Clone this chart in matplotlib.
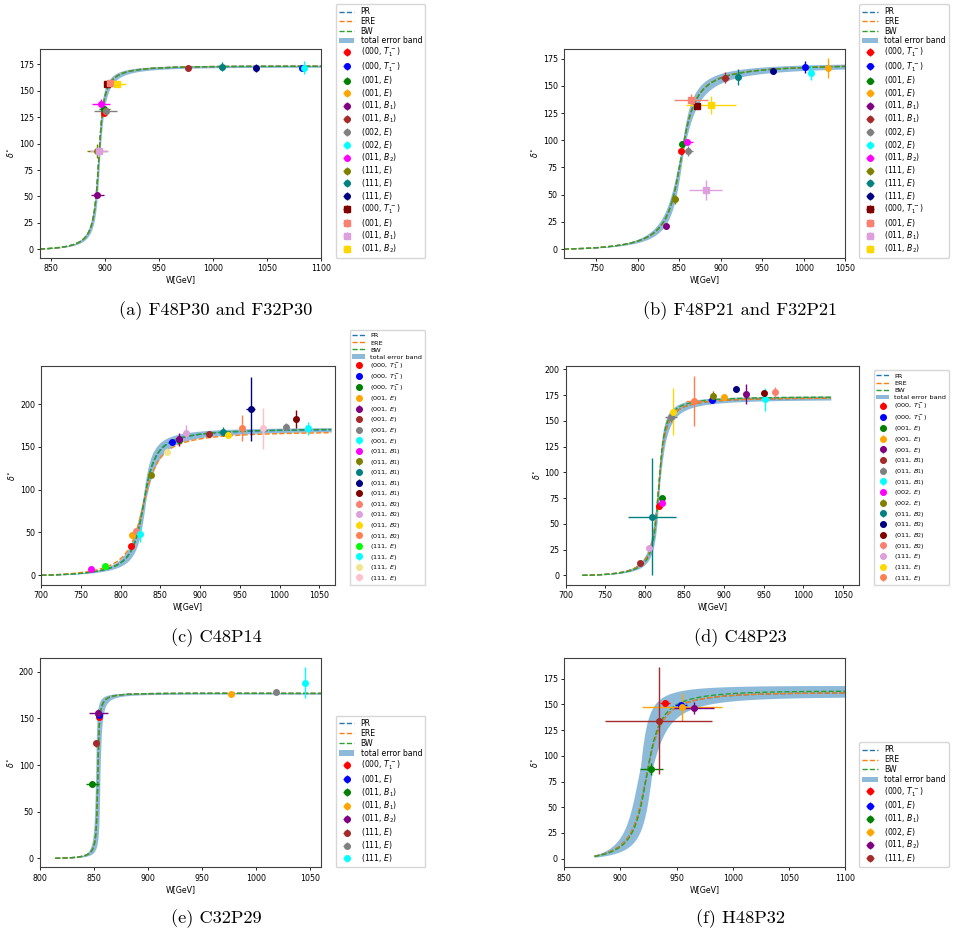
import numpy as np
import matplotlib
matplotlib.use("Agg")
import matplotlib.pyplot as plt
from matplotlib.ticker import MultipleLocator

# ------------------------------------------------------------------ data
# Fit model: tan(delta) = c * k^3 / (W (M^2 - W^2)),  k = sqrt(W^2/4 - mpi^2)
# (a) F48P30 and F32P30
a_mpi = 413.5
a_pr = (894.5, 1.125)
a_ere = (894.5, 1.12)
a_bw = (894.5, 1.13)
a_band_M = (893.7, 895.3)
a_band_c = (0.96, 1.30)
a_wrange = (827.01, 1100.0)
a_labels = [r"(000, $T_1^-$)", r"(000, $T_1^-$)", r"(001, $E$)", r"(001, $E$)",
            r"(011, $B_1$)", r"(011, $B_1$)", r"(002, $E$)", r"(002, $E$)",
            r"(011, $B_2$)", r"(111, $E$)", r"(111, $E$)", r"(111, $E$)",
            r"(000, $T_1^-$)", r"(001, $E$)", r"(011, $B_1$)", r"(011, $B_2$)"]
a_ensemble = ["F48P30"] * 12 + ["F32P30"] * 4
a_W = [899.0, 1082.3, 899.5, 900.5, 892.8, 977.0, 900.5, 1084.4,
       896.2, 892.5, 1008.2, 1040.0, 901.7, 904.8, 894.3, 911.5]
a_delta = [128.7, 171.8, 132.4, 131.0, 51.4, 171.8, 130.8, 171.8,
           137.5, 93.3, 172.8, 171.8, 156.1, 157.0, 93.3, 156.1]
a_xerr = [1.5, 2.0, 5.0, 2.0, 6.0, 1.5, 11.0, 2.5, 8.5, 9.0, 1.5, 2.0, 1.5, 2.0, 8.5, 8.0]
a_yerr = [2.0, 1.5, 2.0, 2.0, 3.0, 1.5, 4.0, 6.0, 5.0, 6.5, 4.0, 4.0, 1.5, 1.5, 2.0, 2.0]

# (b) F48P21 and F32P21
b_mpi = 355.0
b_pr = (853.5, 1.45)
b_ere = (853.5, 1.44)
b_bw = (853.5, 1.46)
b_band_M = (852.0, 855.0)
b_band_c = (1.20, 1.75)
b_wrange = (710.01, 1050.0)
b_labels = list(a_labels)
b_ensemble = ["F48P21"] * 12 + ["F32P21"] * 4
b_W = [851.6, 1001.4, 853.5, 1029.4, 833.5, 905.0, 860.0, 1008.2,
       858.8, 844.4, 920.3, 963.2, 870.9, 864.0, 881.7, 888.1]
b_delta = [90.1, 167.6, 96.5, 166.7, 21.4, 157.5, 90.1, 162.1,
           98.7, 45.7, 158.4, 164.0, 131.5, 137.0, 54.2, 132.4]
b_xerr = [1.5, 2.0, 1.5, 2.0, 2.0, 5.0, 7.0, 3.0, 8.0, 4.0, 2.0, 1.5, 2.0, 20.0, 19.5, 30.0]
b_yerr = [2.0, 5.4, 2.0, 9.2, 2.0, 5.0, 5.0, 7.0, 2.0, 4.0, 7.4, 1.5, 2.0, 5.4, 9.2, 8.0]

# (c) C48P14
c_mpi = 345.0
c_pr = (830.0, 1.25)
c_ere = (830.5, 1.70)
c_bw = (830.0, 1.22)
c_band_M = (828.0, 832.0)
c_band_c = (0.95, 1.55)
c_wrange = (700.0, 1065.0)
c_labels = [r"(000, $T_1^-$)"] * 3 + [r"(001, $E$)"] * 5 + [r"(011, $B_1$)"] * 5 + \
           [r"(011, $B_2$)"] * 4 + [r"(111, $E$)"] * 4
c_W = [813.0, 865.0, 873.4, 814.6, 873.4, 911.6, 1007.8, 1036.3, 762.6, 837.8, 929.2,
       963.7, 1020.4, 819.3, 882.2, 934.7, 952.8, 779.8, 824.3, 857.9, 979.2]
c_delta = [34.6, 155.2, 158.5, 47.0, 158.7, 165.3, 173.5, 171.6, 7.4, 117.1, 167.6,
           194.1, 182.5, 52.1, 166.5, 163.8, 172.3, 10.9, 48.2, 144.3, 171.6]
c_xerr = [1.5, 1.5, 1.5, 2.5, 2.0, 1.5, 1.5, 2.0, 1.5, 1.5, 2.0,
          5.7, 1.5, 3.0, 1.5, 2.0, 1.5, 2.0, 2.0, 2.0, 1.5]
c_yerr = [2.0, 2.0, 2.0, 2.0, 7.8, 3.0, 4.0, 7.8, 1.5, 2.0, 5.0,
          37.7, 11.0, 2.0, 8.8, 4.0, 15.2, 1.5, 8.8, 4.0, 24.0]

# (d) C48P23
d_mpi = 360.0
d_pr = (818.0, 1.15)
d_ere = (818.0, 1.15)
d_bw = (818.0, 1.00)
d_band_M = (817.0, 819.0)
d_band_c = (0.85, 1.40)
d_wrange = (721.0, 1035.0)
d_labels = [r"(000, $T_1^-$)"] * 2 + [r"(001, $E$)"] * 3 + [r"(011, $B_1$)"] * 3 + \
           [r"(002, $E$)"] * 2 + [r"(011, $B_2$)"] * 4 + [r"(111, $E$)"] * 3
d_W = [817.5, 884.5, 821.3, 900.4, 927.4, 793.9, 833.0, 951.8, 821.7, 886.5,
       808.6, 914.8, 950.6, 964.8, 805.3, 836.0, 862.5]
d_delta = [67.0, 170.2, 75.0, 173.1, 176.3, 11.9, 153.4, 170.8, 70.5, 174.0,
           56.9, 180.6, 177.3, 178.3, 26.8, 158.8, 169.2]
d_xerr = [1.5, 2.0, 1.5, 2.0, 1.5, 1.5, 7.4, 2.0, 2.0, 1.5, 30.3, 1.5, 1.5, 1.5, 1.5, 2.0, 10.0]
d_yerr = [2.0, 2.0, 2.0, 2.0, 9.7, 1.5, 5.0, 10.8, 2.0, 5.2, 56.8, 1.5, 1.5, 5.0, 1.5, 23.0, 24.6]

# (e) C32P29
e_mpi = 405.0
e_pr = (853.5, 0.60)
e_ere = (853.5, 0.60)
e_bw = (853.5, 0.60)
e_band_M = (851.5, 855.5)
e_band_c = (0.45, 0.75)
e_wrange = (814.0, 1060.0)
e_labels = [r"(000, $T_1^-$)", r"(001, $E$)", r"(011, $B_1$)", r"(011, $B_1$)",
            r"(011, $B_2$)", r"(111, $E$)", r"(111, $E$)", r"(111, $E$)"]
e_W = [854.9, 854.3, 848.4, 977.0, 853.7, 851.8, 1018.3, 1044.9]
e_delta = [151.1, 153.6, 79.3, 176.1, 155.4, 123.3, 178.6, 187.9]
e_xerr = [1.5, 3.0, 6.0, 1.0, 8.8, 3.0, 1.0, 3.0]
e_yerr = [3.0, 2.0, 3.0, 1.0, 5.0, 4.0, 1.0, 16.6]

# (f) H48P32
f_mpi = 427.0
f_pr = (925.0, 3.2)
f_ere = (925.0, 3.2)
f_bw = (925.0, 2.9)
f_band_M = (918.0, 929.0)
f_band_c = (2.0, 3.9)
f_wrange = (877.0, 1100.0)
f_labels = [r"(000, $T_1^-$)", r"(001, $E$)", r"(011, $B_1$)", r"(002, $E$)",
            r"(011, $B_2$)", r"(111, $E$)"]
f_W = [939.8, 954.0, 927.6, 954.9, 965.6, 934.2]
f_delta = [151.7, 149.4, 87.5, 147.2, 146.8, 134.2]
f_xerr = [4.7, 5.2, 10.0, 35.3, 17.6, 47.4]
f_yerr = [2.0, 2.0, 6.0, 13.6, 5.7, 51.9]

captions = ["(a) F48P30 and F32P30", "(b) F48P21 and F32P21", "(c) C48P14",
            "(d) C48P23", "(e) C32P29", "(f) H48P32"]

# ------------------------------------------------------------------ style
POINT_COLORS = ["red", "blue", "green", "orange", "purple", "brown", "gray", "cyan",
                "magenta", "olive", "teal", "navy", "maroon", "salmon", "plum", "gold",
                "coral", "lime", "cyan", "khaki", "pink"]
FW, FH = 956, 936


def phase(W, mpi, M, c):
    k = np.sqrt(np.clip(W ** 2 / 4.0 - mpi ** 2, 0, None))
    return np.degrees(np.arctan2(c * k ** 3 / W, M ** 2 - W ** 2))


def rect(x0, y0, x1, y1):
    return [x0 / FW, 1 - y1 / FH, (x1 - x0) / FW, (y1 - y0) / FH]


panels = [
    dict(mpi=a_mpi, pr=a_pr, ere=a_ere, bw=a_bw, bM=a_band_M, bc=a_band_c, wr=a_wrange,
         labels=a_labels, W=a_W, d=a_delta, xe=a_xerr, ye=a_yerr,
         markers=["o" if e == "F48P30" else "s" for e in a_ensemble],
         box=(40, 48.7, 321, 257.7), xlim=(839.8, 1100), ylim=(-7.9, 189.8),
         xt=50, yt=25, leg=(335.7, 258.0), lfs=5.6, ls=0.085, cap=(216, 311)),
    dict(mpi=b_mpi, pr=b_pr, ere=b_ere, bw=b_bw, bM=b_band_M, bc=b_band_c, wr=b_wrange,
         labels=b_labels, W=b_W, d=b_delta, xe=b_xerr, ye=b_yerr,
         markers=["o" if e == "F48P21" else "s" for e in b_ensemble],
         box=(564, 48.7, 845.3, 257.7), xlim=(711, 1050), ylim=(-8.0, 184.2),
         xt=50, yt=25, leg=(859.3, 258.0), lfs=5.6, ls=0.085, cap=(740, 311)),
    dict(mpi=c_mpi, pr=c_pr, ere=c_ere, bw=c_bw, bM=c_band_M, bc=c_band_c, wr=c_wrange,
         labels=c_labels, W=c_W, d=c_delta, xe=c_xerr, ye=c_yerr,
         markers=["o"] * len(c_W),
         box=(41.3, 366, 335, 585), xlim=(700, 1069.8), ylim=(-11.3, 244.4),
         xt=50, yt=50, leg=(349.7, 585.3), lfs=4.65, ls=0.24, cap=(216, 638)),
    dict(mpi=d_mpi, pr=d_pr, ere=d_ere, bw=d_bw, bM=d_band_M, bc=d_band_c, wr=d_wrange,
         labels=d_labels, W=d_W, d=d_delta, xe=d_xerr, ye=d_yerr,
         markers=["o"] * len(d_W),
         box=(565.7, 365.7, 859, 585), xlim=(700, 1070.6), ylim=(-9.4, 203.5),
         xt=50, yt=25, leg=(873.7, 585.3), lfs=4.65, ls=0.26, cap=(740, 638)),
    dict(mpi=e_mpi, pr=e_pr, ere=e_ere, bw=e_bw, bM=e_band_M, bc=e_band_c, wr=e_wrange,
         labels=e_labels, W=e_W, d=e_delta, xe=e_xerr, ye=e_yerr,
         markers=["o"] * len(e_W),
         box=(40, 657.7, 321, 867.3), xlim=(800, 1059.9), ylim=(-9.6, 215),
         xt=50, yt=50, leg=(335.7, 867.3), lfs=5.6, ls=0.12, cap=(216, 919)),
    dict(mpi=f_mpi, pr=f_pr, ere=f_ere, bw=f_bw, bM=f_band_M, bc=f_band_c, wr=f_wrange,
         labels=f_labels, W=f_W, d=f_delta, xe=f_xerr, ye=f_yerr,
         markers=["o"] * len(f_W),
         box=(564, 657.7, 845.3, 867.3), xlim=(850, 1100), ylim=(-8.4, 195.4),
         xt=50, yt=25, leg=(859.3, 867.3), lfs=5.6, ls=0.12, cap=(741, 919)),
]

fig = plt.figure(figsize=(FW / 100, FH / 100), dpi=100)
fig.patch.set_facecolor("white")

TFS = 5.7
for i, p in enumerate(panels):
    ax = fig.add_axes(rect(*p["box"]))
    Wg = np.linspace(p["wr"][0], p["wr"][1], 1500)
    curves = [phase(Wg, p["mpi"], M, c) for M in p["bM"] for c in p["bc"]]
    lo = np.min(curves, axis=0)
    hi = np.max(curves, axis=0)
    band = ax.fill_between(Wg, lo, hi, color="C0", alpha=0.5, lw=0, zorder=1)
    l1, = ax.plot(Wg, phase(Wg, p["mpi"], *p["pr"]), ls="--", color="C0", lw=1.0, zorder=2)
    l2, = ax.plot(Wg, phase(Wg, p["mpi"], *p["ere"]), ls="--", color="C1", lw=1.0, zorder=2)
    l3, = ax.plot(Wg, phase(Wg, p["mpi"], *p["bw"]), ls="--", color="C2", lw=1.0, zorder=2)
    handles = [l1, l2, l3, band]
    labels = ["PR", "ERE", "BW", "total error band"]
    for j in range(len(p["W"])):
        eb = ax.errorbar(p["W"][j], p["d"][j], xerr=p["xe"][j], yerr=p["ye"][j],
                         fmt=p["markers"][j], color=POINT_COLORS[j], ms=4.0,
                         elinewidth=1.0, capsize=0, zorder=3)
        handles.append(eb)
        labels.append(p["labels"][j])
    ax.set_xlim(*p["xlim"])
    ax.set_ylim(*p["ylim"])
    ax.xaxis.set_major_locator(MultipleLocator(p["xt"]))
    ax.yaxis.set_major_locator(MultipleLocator(p["yt"]))
    ax.tick_params(labelsize=TFS, length=2.5, width=0.6, pad=2)
    for s in ax.spines.values():
        s.set_linewidth(0.8)
        s.set_color("#404040")
    ax.set_xlabel("W[GeV]", fontsize=TFS, labelpad=1.5)
    ax.set_ylabel(r"$\delta^{\circ}$", fontsize=TFS, labelpad=2)
    lx, ly = p["leg"]
    ax.legend(handles, labels, loc="lower left", bbox_to_anchor=(lx / FW, 1 - ly / FH),
              bbox_transform=fig.transFigure, borderaxespad=0, fontsize=p["lfs"],
              labelspacing=p["ls"], handlelength=2.0, handletextpad=0.8, borderpad=0.4)
    cx, cy = p["cap"]
    fig.text(cx / FW, 1 - cy / FH, captions[i], ha="center", va="center",
             fontfamily="cmr10", fontsize=13.2)

fig.savefig("out.png", dpi=100, facecolor="white")
